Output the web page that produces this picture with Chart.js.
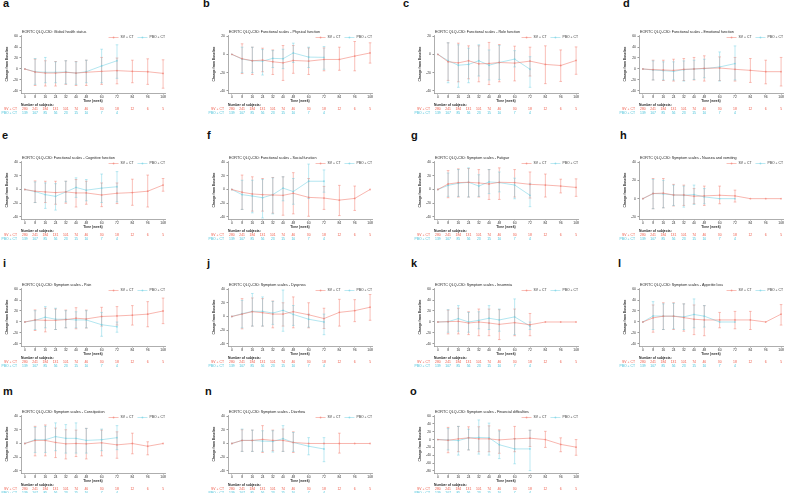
<!DOCTYPE html>
<html>
<head>
<meta charset="utf-8">
<script src="https://cdn.jsdelivr.net/npm/chart.js@4.4.1/dist/chart.umd.min.js"></script>
<style>
  html, body { margin: 0; padding: 0; background: #fff; }
  #page { position: relative; width: 786px; height: 493px; overflow: hidden; background: #fff; }
  #page canvas { position: absolute; }
  .tag { position: absolute; font: bold 11px "Liberation Sans", Arial, sans-serif; line-height: 11px; color: #111; }
</style>
</head>
<body>
<div id="page"></div>
<script>
// Time points and subject counts (shared by every panel)
const weeks = [0, 8, 16, 24, 32, 40, 48, 60, 72, 84, 96, 108];
const svN = [280, 241, 184, 131, 101, 74, 46, 30, 18, 12, 6, 5];
const pboN = [139, 107, 85, 56, 23, 15, 10, 7, 4];

const panelLetters = ['a', 'b', 'c', 'd', 'e', 'f', 'g', 'h', 'i', 'j', 'k', 'l', 'm', 'n', 'o'];
const panelTitles = [
    'EORTC QLQ-C30: Global health status',
    'EORTC QLQ-C30: Functional scales - Physical function',
    'EORTC QLQ-C30: Functional scales - Role function',
    'EORTC QLQ-C30: Functional scales - Emotional function',
    'EORTC QLQ-C30: Functional scales - Cognitive function',
    'EORTC QLQ-C30: Functional scales - Social function',
    'EORTC QLQ-C30: Symptom scales - Fatigue',
    'EORTC QLQ-C30: Symptom scales - Nausea and vomiting',
    'EORTC QLQ-C30: Symptom scales - Pain',
    'EORTC QLQ-C30: Symptom scales - Dyspnea',
    'EORTC QLQ-C30: Symptom scales - Insomnia',
    'EORTC QLQ-C30: Symptom scales - Appetite loss',
    'EORTC QLQ-C30: Symptom scales - Constipation',
    'EORTC QLQ-C30: Symptom scales - Diarrhea',
    'EORTC QLQ-C30: Symptom scales - Financial difficulties'
];

// y tick sets
const ticks60 = [60, 40, 20, 0, -20, -40];
const ticks40 = [40, 20, 0, -20, -40];
const ticks20 = [20, 0, -20, -40];
const ticksNausea = [40, 20, 0, -20];
const ticksFinance = [60, 40, 20, 0, -20, -40, -60, -80];
const panelTicks = [ticks60, ticks20, ticks20, ticks60, ticks40, ticks40, ticks40, ticksNausea,
    ticks60, ticks40, ticks60, ticks60, ticks40, ticks40, ticksFinance];

// each point: [mean, lower, upper]
const a_sv = [[0,0,0],[-5.5,-30,18],[-7.4,-31,15],[-7.4,-31,13.6],[-6,-28,15],[-7.4,-30,13.6],[-6,-30,16],[-4.3,-28,21],[-3,-27,20],[-4.3,-25,16],[-5,-28,18.5],[-8,-35,16.7]];
const a_pbo = [[0,0,0],[-5,-28,19],[-6,-25,21],[-6,-25,13],[-5.5,-27,15],[-7.4,-28,13],[-5,-25,16],[5.5,-25,36],[15,-17,44]];
const b_sv = [[0,0,0],[-4.8,-21,11.5],[-7,-22,7.8],[-6.3,-19,6.7],[-8.1,-22,4.8],[-9.3,-28.5,9.6],[-6.7,-20.7,9.6],[-7.4,-22,7],[-5.6,-18,7],[-5.6,-17.4,7.8],[-1.9,-18,14],[1.5,-9.6,12.6]];
const b_pbo = [[0,0,0],[-5.2,-20,7.8],[-7,-20,7.8],[-7.4,-22.6,5.2],[-4.4,-14.4,4],[-4.8,-15.6,5.6],[1.5,-8.9,12.2],[-3,-14.4,7.8],[-3.3,-16.3,8.5]];
const c_sv = [[0,0,0],[-8.1,-28.5,12.6],[-9.3,-30,12.2],[-7,-26.7,9.3],[-10.4,-30,9.3],[-10,-33,13],[-8.9,-30,10.7],[-9.6,-29,8.9],[-7.4,-23.7,7.8],[-11,-32,9.3],[-12.2,-29.6,4.8],[-6.7,-21.8,8.1]];
const c_pbo = [[0,0,0],[-7,-31,12.6],[-11.9,-36,10.4],[-11,-31,6.7],[-7,-23.7,10.4],[-11.9,-28,4.8],[-8.9,-27.4,9.6],[-5.2,-13.7,4],[-16.3,-36,-2.6]];
const d_sv = [[0,0,0],[-1.2,-20,16],[-1.8,-21,16],[-2.5,-22,17.8],[-0.6,-21,19],[0,-20,21],[1.2,-22,24],[1.8,-21,22],[-0.6,-22,21],[-2.5,-24.5,19],[-4.9,-27,16],[-4.9,-31,21]];
const d_pbo = [[0,0,0],[-1.8,-20,14.7],[-3,-20,13],[-4.3,-20,13],[-1.2,-22,14.7],[0,-19,16],[0.6,-16,17.8],[3.7,-22,31],[9.8,-20,42]];
const e_sv = [[0,0,0],[-2.5,-19,12.5],[-3.5,-19,12],[-4.5,-21.5,12],[-3.5,-20,12],[-5,-25.5,14.5],[-5,-21.5,12],[-8,-25,9.5],[-5.5,-20.5,9.5],[-4.5,-23,15],[-2.5,-25.5,21],[6.5,-2.5,16]];
const e_pbo = [[0,0,0],[-3,-19,11],[-7.5,-27.5,9.5],[-10,-30,8.5],[-3.5,-18,12],[3,-11.5,17],[-1,-16.5,14.5],[2,-19,22.5],[4,-18,26]];
const f_sv = [[0,0,0],[-4,-29,21],[-6.5,-31.5,18.5],[-7.5,-31.5,16],[-8,-34.5,17.5],[-8.5,-37.5,18.5],[-5.5,-35.5,24.5],[-11.5,-39,16],[-12.5,-29,4.5],[-15.5,-38,6],[-13,-30.5,5],[0,0,0]];
const f_pbo = [[0,0,0],[-7.5,-29,13.5],[-9.5,-34,13.5],[-12,-41.5,14.5],[-7.5,-35.5,17],[2,-16.5,18.5],[-3,-21.5,16],[12,-13,37],[12,-4,28.5]];
const g_sv = [[0,0,0],[8,-12,27.5],[10,-11,30],[10.5,-11,30.5],[9.5,-11,29],[8,-14.5,29],[10.5,-14.5,31.5],[10,-11,29],[7.5,-12.5,25.5],[6.5,-11,22.5],[5,-5,15],[3,-10,15.5]];
const g_pbo = [[0,0,0],[6,-10,24],[9,-10,29],[10.5,-11,31.5],[5,-10,21.5],[11,-6,29],[10,-3.5,25.5],[6.5,-13.5,16.5],[-8.5,-25,9]];
const h_sv = [[0,0,0],[5.6,-11,22],[6,-10,22],[4,-8,15.6],[4,-7.4,14.8],[2.6,-5.6,11],[3,-7.4,13.7],[3.7,-5.6,13.7],[3,-3.7,9.3],[0,0,0],[0,0,0],[0,0,0]];
const h_pbo = [[0,0,0],[5.6,-11,21],[5.2,-10,20],[4,-7.4,14.8],[3.7,-9.3,13.7],[4.4,-6.3,14.8],[1.9,-5.6,11],[0,0,0],[0,0,0]];
const i_sv = [[0,0,0],[3.7,-15.5,22],[3,-18,25],[3,-13.7,23.6],[4.3,-10.6,21.7],[6.8,-12.4,26],[5.6,-11,21.7],[10,-7.5,26.7],[11,-5.6,28],[12.4,-5.6,29.8],[14.3,-8.7,37],[20,-3,43.5]];
const i_pbo = [[0,0,0],[3,-13.7,20.5],[8.7,-10.6,28],[5,-13.7,25],[5,-10.6,20.5],[3.7,-10.6,18.6],[3.7,-10.6,20.5],[-5,-26,17.4],[-8.7,-18.6,0]];
const j_sv = [[0,0,0],[3.5,-18,26],[7,-14,27],[5.5,-14,26],[3.5,-16.5,22.5],[3.5,-14,20],[7,-16.5,28.5],[2.5,-16.5,20],[-3,-17.5,12],[6,-14,25],[8.5,-7.5,24.5],[13.5,-5.5,32]];
const j_pbo = [[0,0,0],[4,-16.5,23.5],[7.5,-14,33.5],[7.5,-14,28.5],[5,-11.5,22],[9,-21.5,38.5],[3,-13,16],[-4,-15.5,3.5],[-8,-26.5,3.5]];
const k_sv = [[0,0,0],[0.6,-21.7,21.7],[1.2,-21.7,25],[-1.9,-23,18.6],[0,-25,23.6],[-1.9,-25,23.6],[-4.3,-32,22.4],[-1.2,-25,23.6],[-5,-25,15.5],[0,0,0],[0,0,0],[0,0,0]];
const k_pbo = [[0,0,0],[0.6,-18.6,22.4],[6.2,-16.8,29.8],[0,-18.6,17.4],[3,-12.4,18.6],[6.8,-13.7,29.8],[3.7,-16.8,23.6],[9.3,-23,42],[-7.5,-13.7,0]];
const l_sv = [[0,0,0],[7.5,-18.6,31],[10.6,-13.7,35],[10.6,-13.7,35],[8,-16.8,33],[5,-23,31],[3.7,-25,29.8],[3.7,-10.6,17.4],[3.7,-12.4,19.3],[3.7,-13.7,19.3],[0,0,0],[14.3,-5.6,31.7]];
const l_pbo = [[0,0,0],[11,-13.7,37],[10.6,-13.7,33],[10.6,-12.4,34],[9.3,-13.7,33],[13.7,-10.6,42],[10.6,-9.3,29.8],[0,0,0],[0,0,0]];
const m_sv = [[0,0,0],[4.5,-18,25],[4.5,-18,27],[1.5,-20.5,22.5],[-0.5,-22.5,20],[0,-19,19.5],[-0.5,-22.5,22],[1,-18,19.5],[-2,-21.5,17],[0,-15,15],[-4,-16.5,2.5],[0,0,0]];
const m_pbo = [[0,0,0],[5.5,-13,23.5],[5.5,-13,25],[10,-10.5,30],[7.5,-14,27.5],[7.5,-14,30],[4.5,-14,22],[5.5,-10.5,21],[8.5,-9,26]];
const n_sv = [[0,0,0],[4.5,-11.5,20],[4.5,-11.5,19.5],[6,-13,26],[4.5,-10.5,19.5],[4.5,-11.5,21],[1.5,-13,17],[0,0,0],[0,0,0],[0,-14,15],[0,0,0],[0,0,0]];
const n_pbo = [[0,0,0],[4.5,-11.5,21],[4.5,-11.5,19.5],[3.5,-11.5,18.5],[3,-12.5,18.5],[7,-11.5,26],[1.5,-11.5,16],[-4,-16.5,8.5],[-8,-26.5,8.5]];
const o_sv = [[0,0,0],[-1.8,-33.5,31],[1.8,-31,33.5],[4.4,-26.4,32.6],[1.8,-31,32.6],[1.8,-31,35],[-0.9,-35,24.7],[1.8,-31,33.5],[3.5,-17.6,23.8],[0,-20,21],[-12.3,-31,4.4],[-19.4,-40,0]];
const o_pbo = [[0,0,0],[-0.9,-26.4,28],[-2.6,-39.6,33.5],[4.4,-26.4,26.4],[5.3,-37,50],[4.4,-39.6,42],[-13.2,-48.5,22],[-23.8,-61.7,2.6],[-23.8,-79,23.8]];

const svSeries = [a_sv, b_sv, c_sv, d_sv, e_sv, f_sv, g_sv, h_sv, i_sv, j_sv, k_sv, l_sv, m_sv, n_sv, o_sv];
const pboSeries = [a_pbo, b_pbo, c_pbo, d_pbo, e_pbo, f_pbo, g_pbo, h_pbo, i_pbo, j_pbo, k_pbo, l_pbo, m_pbo, n_pbo, o_pbo];

// layout
const FONT = '"Liberation Sans", Arial, sans-serif';
const plotLeft = [21, 228, 434, 639];
const rowTop = [0, 126, 253, 380];
const letterPos = [[3, -2], [203, -2], [403, -2], [623, -2],
    [2, 130], [207, 130], [411, 130], [620, 130],
    [3, 258], [207, 258], [411, 258], [618, 258],
    [3, 386], [205, 386], [410, 386]];
const SV_LINE = 'rgba(242, 120, 106, 0.6)';
const PBO_LINE = 'rgba(100, 205, 225, 0.55)';
const SV_TEXT = '#ee5a48';
const PBO_TEXT = '#45c0d8';

Chart.defaults.font.family = FONT;

// error bars, drawn from the data through the chart scales
const errorBars = {
    id: 'errorBars',
    beforeDatasetsDraw(chart) {
        const { ctx, scales: { x, y } } = chart;
        ctx.save();
        chart.data.datasets.forEach(ds => {
            ctx.strokeStyle = ds.borderColor;
            ctx.lineWidth = 0.8;
            ds.data.forEach(p => {
                if (p.lo === p.hi) return;
                const px = x.getPixelForValue(p.x);
                const y1 = y.getPixelForValue(p.lo);
                const y2 = y.getPixelForValue(p.hi);
                ctx.beginPath();
                ctx.moveTo(px, y1); ctx.lineTo(px, y2);
                ctx.moveTo(px - 1.3, y1); ctx.lineTo(px + 1.3, y1);
                ctx.moveTo(px - 1.3, y2); ctx.lineTo(px + 1.3, y2);
                ctx.stroke();
            });
        });
        ctx.restore();
    }
};

// title, legend and the number-of-subjects table
const panelText = {
    id: 'panelText',
    afterDraw(chart) {
        const { ctx, chartArea: ca, scales: { x } } = chart;
        const opts = chart.options.plugins.panelText;
        ctx.save();
        ctx.textBaseline = 'middle';

        ctx.fillStyle = '#222';
        ctx.font = `3.7px ${FONT}`;
        ctx.textAlign = 'left';
        ctx.fillText(opts.title, ca.left + 1, 32);

        // legend, right aligned
        ctx.font = `3.4px ${FONT}`;
        let xr = ca.right;
        [['PBO + CT', PBO_LINE], ['SV + CT', SV_LINE]].forEach(([txt, col]) => {
            const w = ctx.measureText(txt).width;
            ctx.fillStyle = '#333';
            ctx.fillText(txt, xr - w, 37.5);
            const x2 = xr - w - 2, x1 = x2 - 10;
            ctx.strokeStyle = col;
            ctx.lineWidth = 0.8;
            ctx.beginPath(); ctx.moveTo(x1, 37.5); ctx.lineTo(x2, 37.5); ctx.stroke();
            ctx.fillStyle = col;
            ctx.beginPath(); ctx.arc((x1 + x2) / 2, 37.5, 0.9, 0, Math.PI * 2); ctx.fill();
            xr = x1 - 4;
        });

        ctx.fillStyle = '#222';
        ctx.font = `bold 3.4px ${FONT}`;
        ctx.fillText('Number of subjects:', ca.left, 105);

        ctx.font = `3.4px ${FONT}`;
        ctx.textAlign = 'right';
        ctx.fillStyle = SV_TEXT;
        ctx.fillText('SV + CT', ca.left - 4, 109);
        ctx.fillStyle = PBO_TEXT;
        ctx.fillText('PBO + CT', ca.left - 4, 112.8);
        ctx.textAlign = 'center';
        ctx.fillStyle = SV_TEXT;
        svN.forEach((n, k) => ctx.fillText(String(n), x.getPixelForValue(weeks[k]), 109));
        ctx.fillStyle = PBO_TEXT;
        pboN.forEach((n, k) => ctx.fillText(String(n), x.getPixelForValue(weeks[k]), 112.8));
        ctx.restore();
    }
};

function toPoints(series) {
    return series.map((p, k) => ({ x: weeks[k], y: p[0], lo: p[1], hi: p[2] }));
}

function makePanel(i) {
    const col = i % 4, row = Math.floor(i / 4);
    const page = document.getElementById('page');

    const tag = document.createElement('div');
    tag.className = 'tag';
    tag.textContent = panelLetters[i];
    tag.style.left = letterPos[i][0] + 'px';
    tag.style.top = letterPos[i][1] + 'px';
    page.appendChild(tag);

    const canvas = document.createElement('canvas');
    canvas.width = 175;
    canvas.height = 126;
    canvas.style.left = (plotLeft[col] - 21) + 'px';
    canvas.style.top = rowTop[row] + 'px';
    page.appendChild(canvas);

    const yt = panelTicks[i];
    const unit = (yt[0] - yt[yt.length - 1]) / 54;

    new Chart(canvas, {
        type: 'line',
        data: {
            datasets: [{
                label: 'SV + CT',
                data: toPoints(svSeries[i]),
                borderColor: SV_LINE,
                backgroundColor: SV_LINE,
                borderWidth: 0.9,
                pointRadius: 0.9,
                pointBorderWidth: 0,
                tension: 0,
                clip: false
            }, {
                label: 'PBO + CT',
                data: toPoints(pboSeries[i]),
                borderColor: PBO_LINE,
                backgroundColor: PBO_LINE,
                borderWidth: 0.9,
                pointRadius: 0.9,
                pointBorderWidth: 0,
                tension: 0,
                clip: false
            }]
        },
        options: {
            responsive: false,
            animation: false,
            events: [],
            layout: { padding: { left: 0, top: 35, right: 10, bottom: 23 } },
            plugins: {
                legend: { display: false },
                title: { display: false },
                tooltip: { enabled: false },
                panelText: { title: panelTitles[i] }
            },
            scales: {
                x: {
                    type: 'linear',
                    min: -3,
                    max: 109.5,
                    afterBuildTicks: s => { s.ticks = weeks.map(v => ({ value: v })); },
                    afterFit: s => { s.height = 10; },
                    ticks: { autoSkip: false, maxRotation: 0, font: { size: 3.4 }, color: '#333', padding: 0.5 },
                    grid: { drawOnChartArea: false, tickLength: 1.5, color: '#999' },
                    border: { color: '#999', width: 0.8 },
                    title: { display: true, text: 'Time (week)', font: { size: 3.4, weight: 'bold' }, color: '#333', padding: { top: 1, bottom: 0 } }
                },
                y: {
                    min: yt[yt.length - 1] - 2 * unit,
                    max: yt[0] + unit,
                    afterBuildTicks: s => { s.ticks = yt.map(v => ({ value: v })); },
                    afterFit: s => { s.width = 21; },
                    ticks: { font: { size: 3.4 }, color: '#333', padding: 1.5 },
                    grid: { drawOnChartArea: false, tickLength: 1.5, color: '#999' },
                    border: { color: '#999', width: 0.8 },
                    title: { display: true, text: 'Change from Baseline', font: { size: 3.3, weight: 'bold' }, color: '#333', padding: { top: 5, bottom: 0 } }
                }
            }
        },
        plugins: [errorBars, panelText]
    });
}

for (let i = 0; i < panelTitles.length; i++) makePanel(i);
</script>
</body>
</html>
